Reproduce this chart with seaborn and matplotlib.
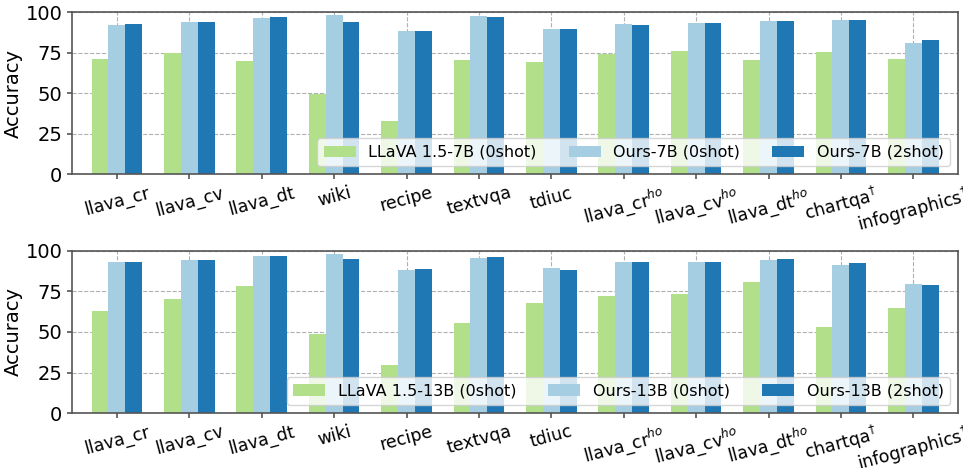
import matplotlib
matplotlib.use("Agg")
import matplotlib.pyplot as plt
import seaborn as sns
import pandas as pd

categories = ["llava_cr", "llava_cv", "llava_dt", "wiki", "recipe", "textvqa", "tdiuc",
              "llava_cr$^{ho}$", "llava_cv$^{ho}$", "llava_dt$^{ho}$",
              "chartqa$^{\\dagger}$", "infographics$^{\\dagger}$"]

llava7_0 = [71.0, 75.0, 69.8, 49.4, 32.7, 70.4, 69.1, 74.0, 75.9, 70.4, 75.1, 71.0]
ours7_0 = [92.0, 94.2, 96.3, 98.1, 88.3, 97.5, 89.3, 92.6, 93.2, 94.4, 95.0, 80.9]
ours7_2 = [92.6, 94.2, 96.9, 94.2, 88.3, 96.9, 89.3, 92.0, 93.2, 94.4, 95.0, 82.7]

llava13_0 = [63.0, 70.4, 78.4, 48.8, 29.6, 55.6, 67.9, 72.2, 73.5, 80.9, 53.1, 64.8]
ours13_0 = [93.2, 94.4, 96.9, 98.1, 88.3, 95.7, 89.5, 93.2, 93.2, 94.4, 91.4, 79.6]
ours13_2 = [93.2, 94.4, 96.9, 95.0, 88.9, 96.3, 88.3, 93.2, 93.2, 95.0, 92.6, 79.0]

series7 = ["LLaVA 1.5-7B (0shot)", "Ours-7B (0shot)", "Ours-7B (2shot)"]
series13 = ["LLaVA 1.5-13B (0shot)", "Ours-13B (0shot)", "Ours-13B (2shot)"]
yticks = [0, 25, 50, 75, 100]
colors = ["#b2df8a", "#a6cee3", "#1f78b4"]


def make_df(names, vals):
    rows = []
    for name, v in zip(names, vals):
        for c, x in zip(categories, v):
            rows.append({"task": c, "model": name, "acc": x})
    return pd.DataFrame(rows)


fig = plt.figure(figsize=(9.63, 4.68), dpi=100)
ax1 = fig.add_axes([0.0748, 0.628, 0.9202, 0.346])
ax2 = fig.add_axes([0.0748, 0.1175, 0.9202, 0.3462])

for ax, names, vals in [(ax1, series7, [llava7_0, ours7_0, ours7_2]),
                        (ax2, series13, [llava13_0, ours13_0, ours13_2])]:
    df = make_df(names, vals)
    sns.barplot(data=df, x="task", y="acc", hue="model", hue_order=names,
                order=categories, palette=colors, width=0.7, saturation=1,
                ax=ax, errorbar=None)
    ax.set_axisbelow(True)
    ax.grid(True, linestyle="--", color="#b0b0b0", linewidth=0.8)
    ax.set_ylim(0, 100)
    ax.set_yticks(yticks)
    ax.set_xlim(-0.62, len(categories) - 1 + 0.62)
    ax.set_xlabel("")
    ax.set_ylabel("Accuracy", fontsize=14, labelpad=2)
    ax.tick_params(axis="y", labelsize=14, color="#555555", width=1.2)
    ax.tick_params(axis="x", labelsize=12.5, color="#555555", width=1.2)
    for lab in ax.get_xticklabels():
        lab.set_rotation(15)
    for s in ax.spines.values():
        s.set_color("#555555")
        s.set_linewidth(1.2)
    ax.legend(loc="lower right", ncol=3, fontsize=11.5, framealpha=0.8)

fig.savefig("out.png", dpi=100)
